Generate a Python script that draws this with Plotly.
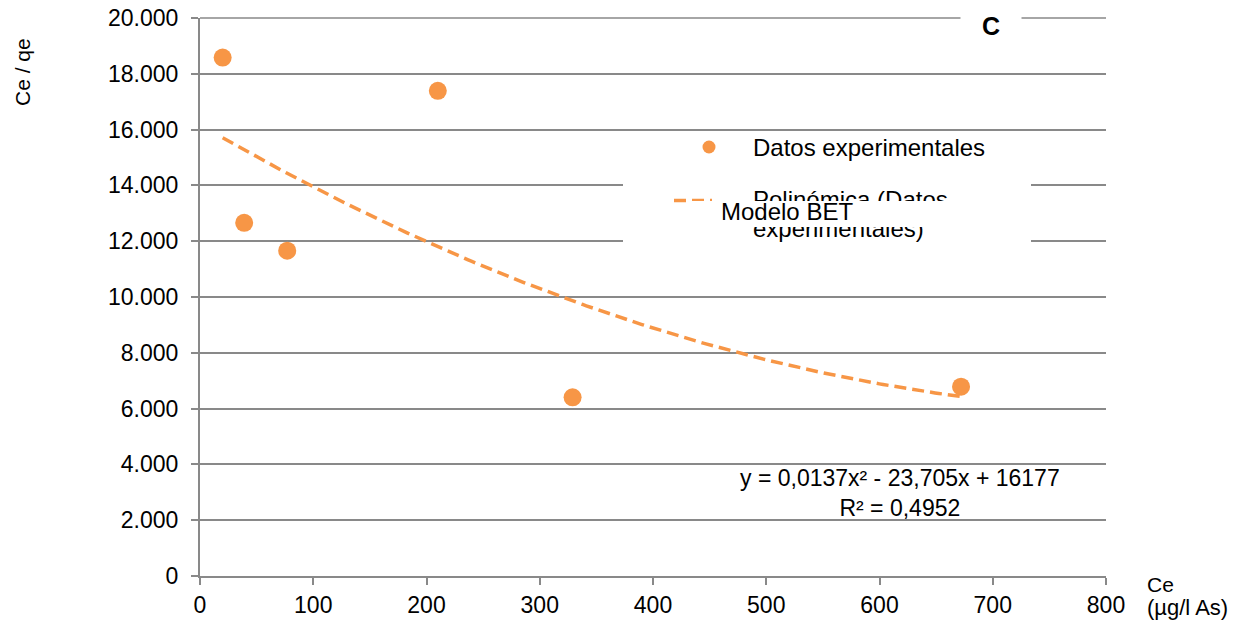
import numpy as np
import plotly.graph_objects as go

# Experimental data: equilibrium concentration Ce (µg/l As) vs Ce/qe
ce = [20, 39, 77, 210, 329, 672]
ce_qe = [18580, 12660, 11660, 17390, 6405, 6785]

# Second-order polynomial trend (coefficients as printed on the chart)
poly_a = 0.0137
poly_b = -23.705
poly_c = 16177
r_squared = "0,4952"

x_tick_vals = [0, 100, 200, 300, 400, 500, 600, 700, 800]
y_tick_vals = [0, 2000, 4000, 6000, 8000, 10000, 12000, 14000, 16000, 18000, 20000]
y_tick_text = ["0", "2.000", "4.000", "6.000", "8.000", "10.000", "12.000",
               "14.000", "16.000", "18.000", "20.000"]

ORANGE = "#F79646"
GREY = "#898989"
FONT = "Liberation Sans, Arial, sans-serif"

W, H = 1244, 632
L, R, T, B = 200, 138, 18, 56
PW, PH = W - L - R, H - T - B


def px(x):
    return (x - L) / PW


def py(y):
    return (H - B - y) / PH


trend_x = np.linspace(min(ce), max(ce), 200)
trend_y = poly_a * trend_x ** 2 + poly_b * trend_x + poly_c

fig = go.Figure()
fig.add_trace(go.Scatter(
    x=trend_x, y=trend_y, mode="lines",
    line=dict(color=ORANGE, width=3.5, dash="12px,6px"),
    hoverinfo="skip", showlegend=False,
))
fig.add_trace(go.Scatter(
    x=ce, y=ce_qe, mode="markers",
    marker=dict(color=ORANGE, size=18, line=dict(width=0)),
    showlegend=False,
))

shapes = [
    # top gridline at the range edge
    dict(type="line", xref="paper", yref="paper", layer="between",
         x0=0, x1=1, y0=1, y1=1, line=dict(color=GREY, width=1.5)),
    # legend panel
    dict(type="rect", xref="paper", yref="paper", layer="above",
         x0=px(623), x1=px(1031), y0=py(131), y1=py(243),
         fillcolor="white", line=dict(width=0)),
    # legend marker
    dict(type="circle", xref="paper", yref="paper", layer="above",
         x0=px(702.5), x1=px(715.5), y0=py(140.5), y1=py(153.5),
         fillcolor=ORANGE, line=dict(width=0)),
    # legend dashed sample
    dict(type="line", xref="paper", yref="paper", layer="above",
         x0=px(674), x1=px(712), y0=py(200.5), y1=py(200.5),
         line=dict(color=ORANGE, width=3.5, dash="12px,6px")),
]

annotations = [
    dict(text="Datos experimentales", xref="paper", yref="paper",
         x=px(751), y=py(147), xanchor="left", yanchor="middle",
         showarrow=False, font=dict(family=FONT, size=24, color="#000")),
    dict(text="Polinómica (Datos", xref="paper", yref="paper",
         x=px(751), y=py(200), xanchor="left", yanchor="middle",
         showarrow=False, font=dict(family=FONT, size=24, color="#000")),
    dict(text="experimentales)", xref="paper", yref="paper",
         x=px(751), y=py(229), xanchor="left", yanchor="middle",
         showarrow=False, font=dict(family=FONT, size=24, color="#000")),
    # white box over the default trendline label
    dict(text=" ", xref="paper", yref="paper",
         x=px(690), y=py(201), xanchor="left", yanchor="top",
         width=310, height=26, bgcolor="white", borderpad=0, borderwidth=0,
         showarrow=False, font=dict(family=FONT, size=10, color="#000")),
    dict(text="Modelo BET", xref="paper", yref="paper",
         x=px(719), y=py(212), xanchor="left", yanchor="middle",
         showarrow=False, font=dict(family=FONT, size=24, color="#000")),
    # equation and R²
    dict(text=f"y = 0,0137x² - 23,705x + 16177<br>R² = {r_squared}",
         xref="paper", yref="paper", x=px(900), y=py(493),
         xanchor="center", yanchor="middle", align="center",
         showarrow=False, font=dict(family=FONT, size=23, color="#000")),
    # panel letter
    dict(text="<b>C</b>", xref="paper", yref="paper",
         x=px(991), y=py(26), xanchor="center", yanchor="middle",
         width=56, height=34, bgcolor="white", borderpad=2,
         showarrow=False, font=dict(family=FONT, size=25, color="#000")),
    # axis titles
    dict(text="Ce / qe", xref="paper", yref="paper",
         x=px(22), y=py(72), xanchor="center", yanchor="middle",
         textangle=-90, showarrow=False,
         font=dict(family=FONT, size=21, color="#000")),
    dict(text="Ce", xref="paper", yref="paper",
         x=px(1145), y=py(584), xanchor="left", yanchor="middle",
         showarrow=False, font=dict(family=FONT, size=21, color="#000")),
    dict(text="(µg/l As)", xref="paper", yref="paper",
         x=px(1145), y=py(607), xanchor="left", yanchor="middle",
         showarrow=False, font=dict(family=FONT, size=22, color="#000")),
]

fig.update_layout(
    width=W, height=H,
    margin=dict(l=L, r=R, t=T, b=B, pad=0),
    paper_bgcolor="white", plot_bgcolor="white",
    font=dict(family=FONT, size=23, color="#000"),
    showlegend=False,
    shapes=shapes,
    annotations=annotations,
    xaxis=dict(
        range=[0, 800], tickvals=x_tick_vals, showgrid=False, zeroline=False,
        showline=True, linecolor=GREY, linewidth=2, automargin=False,
        ticks="outside", ticklen=7, tickwidth=2, tickcolor=GREY,
        tickfont=dict(family=FONT, size=23, color="#000"),
        ticklabelstandoff=0,
    ),
    yaxis=dict(
        range=[0, 20000], tickvals=y_tick_vals, ticktext=y_tick_text,
        showgrid=True, gridcolor=GREY, gridwidth=1.5, zeroline=False,
        showline=True, linecolor=GREY, linewidth=2, automargin=False,
        ticks="outside", ticklen=7, tickwidth=2, tickcolor=GREY,
        tickfont=dict(family=FONT, size=23, color="#000"),
        ticklabelstandoff=8,
    ),
)

fig.write_html("out.html")
